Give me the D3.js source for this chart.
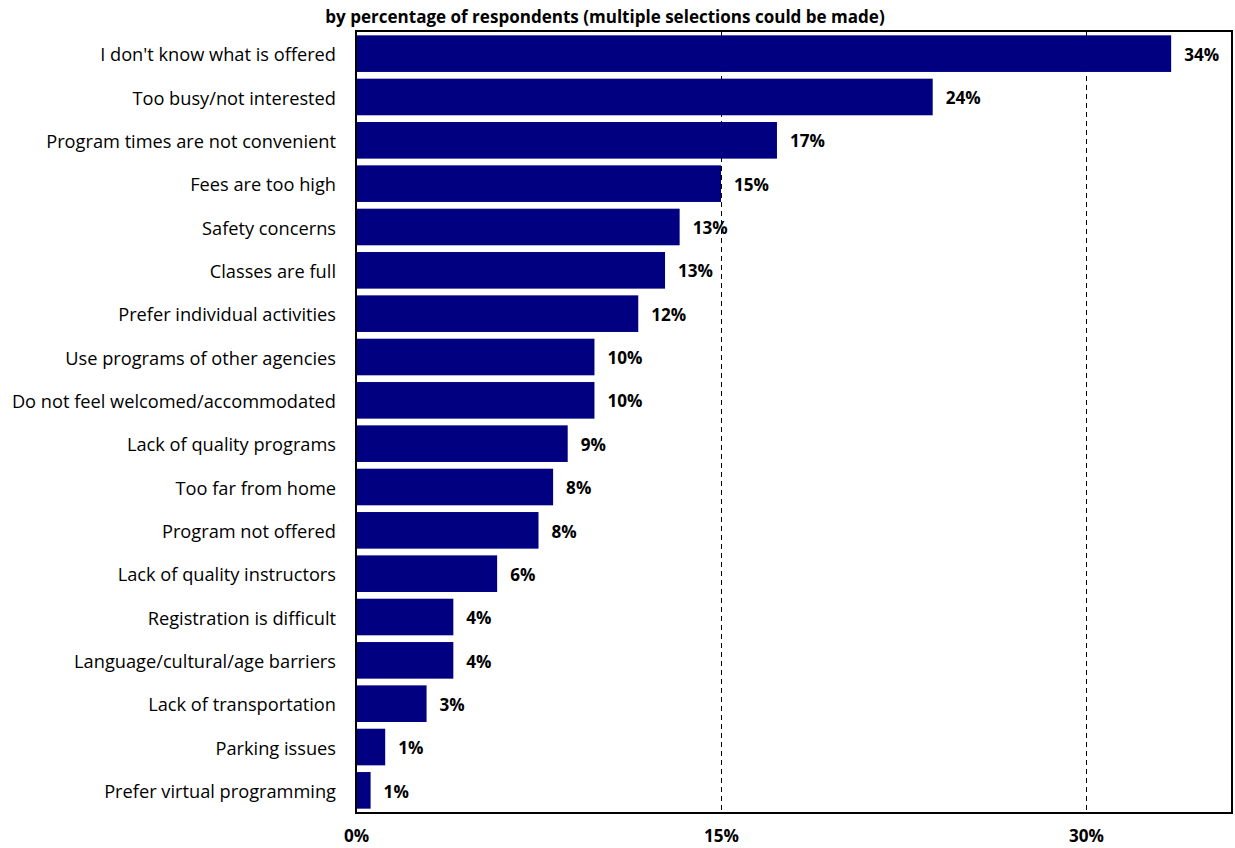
<!DOCTYPE html>
<html>
<head>
<meta charset="utf-8">
<script src="https://cdn.jsdelivr.net/npm/d3@7"></script>
<style>
  body { margin: 0; background: #fff; }
  svg { display: block; }
  text { font-family: "Open Sans", Lato, sans-serif; fill: #000; }
</style>
</head>
<body>
<svg id="chart" width="1235" height="848"></svg>
<script>
const categories = [
  "I don't know what is offered",
  "Too busy/not interested",
  "Program times are not convenient",
  "Fees are too high",
  "Safety concerns",
  "Classes are full",
  "Prefer individual activities",
  "Use programs of other agencies",
  "Do not feel welcomed/accommodated",
  "Lack of quality programs",
  "Too far from home",
  "Program not offered",
  "Lack of quality instructors",
  "Registration is difficult",
  "Language/cultural/age barriers",
  "Lack of transportation",
  "Parking issues",
  "Prefer virtual programming"
];
const values = [33.5, 23.7, 17.3, 15.0, 13.3, 12.7, 11.6, 9.8, 9.8, 8.7, 8.1, 7.5, 5.8, 4.0, 4.0, 2.9, 1.2, 0.6];
const valueLabels = ["34%", "24%", "17%", "15%", "13%", "13%", "12%", "10%", "10%", "9%", "8%", "8%", "6%", "4%", "4%", "3%", "1%", "1%"];
const tickValues = [0, 15, 30];
const tickLabels = ["0%", "15%", "30%"];
const title = "by percentage of respondents (multiple selections could be made)";

const svg = d3.select("#chart");
const margin = { left: 356, right: 3, top: 31, bottom: 35 };
const W = 1235, H = 848;
const x = d3.scaleLinear().domain([0, 36]).range([margin.left, W - margin.right]);
const y = d3.scaleBand().domain(categories).range([margin.top, H - margin.bottom]).paddingInner(0.155).paddingOuter(0.1);

// fit a text selection's font size so that a reference element reaches a target width
function fitSize(sel, refNode, target, base) {
  sel.style("font-size", base + "px");
  const w = refNode.getComputedTextLength();
  const s = base * target / w;
  sel.style("font-size", s.toFixed(2) + "px");
}

// gridlines
svg.append("g").selectAll("line").data(tickValues.filter(d => d > 0)).join("line")
  .attr("x1", d => x(d) + 0.5).attr("x2", d => x(d) + 0.5)
  .attr("y1", margin.top).attr("y2", H - margin.bottom)
  .attr("stroke", "#000").attr("stroke-width", 1).attr("stroke-dasharray", "5,4");

// bars
svg.append("g").selectAll("rect").data(categories).join("rect")
  .attr("x", x(0)).attr("y", d => y(d))
  .attr("width", (d, i) => x(values[i]) - x(0))
  .attr("height", y.bandwidth())
  .attr("fill", "#000080");

// frame
svg.append("rect")
  .attr("x", margin.left).attr("y", margin.top)
  .attr("width", W - margin.right - margin.left).attr("height", H - margin.bottom - margin.top)
  .attr("fill", "none").attr("stroke", "#000").attr("stroke-width", 2);

// category labels
const cat = svg.append("g").selectAll("text").data(categories).join("text")
  .attr("x", 336).attr("y", d => y(d) + y.bandwidth() / 2 + 1)
  .attr("dy", "0.36em").attr("text-anchor", "end")
  .text(d => d);
fitSize(cat, cat.node(), 236, 16);

// value labels
const val = svg.append("g").selectAll("text").data(categories).join("text")
  .attr("x", (d, i) => x(values[i]) + 13).attr("y", d => y(d) + y.bandwidth() / 2 + 1)
  .attr("dy", "0.36em")
  .style("font-weight", "bold")
  .text((d, i) => valueLabels[i]);
fitSize(val, val.node(), 35, 16);

// x tick labels
const xAxis = d3.axisBottom(x).tickValues(tickValues).tickFormat((d, i) => tickLabels[i]).tickSize(0).tickPadding(0);
const ax = svg.append("g").attr("transform", `translate(0, ${H - 6})`).call(xAxis);
ax.select(".domain").remove();
const tl = ax.selectAll("text").attr("dy", 0).style("font-weight", "bold")
  .style("font-family", "'Open Sans', Lato, sans-serif").attr("fill", "#000");
fitSize(tl, tl.nodes()[1], 35, 16);

// title
const tt = svg.append("text").attr("x", 605).attr("y", 23).attr("text-anchor", "middle")
  .style("font-weight", "bold").text(title);
fitSize(tt, tt.node(), 560, 16);
</script>
</body>
</html>
